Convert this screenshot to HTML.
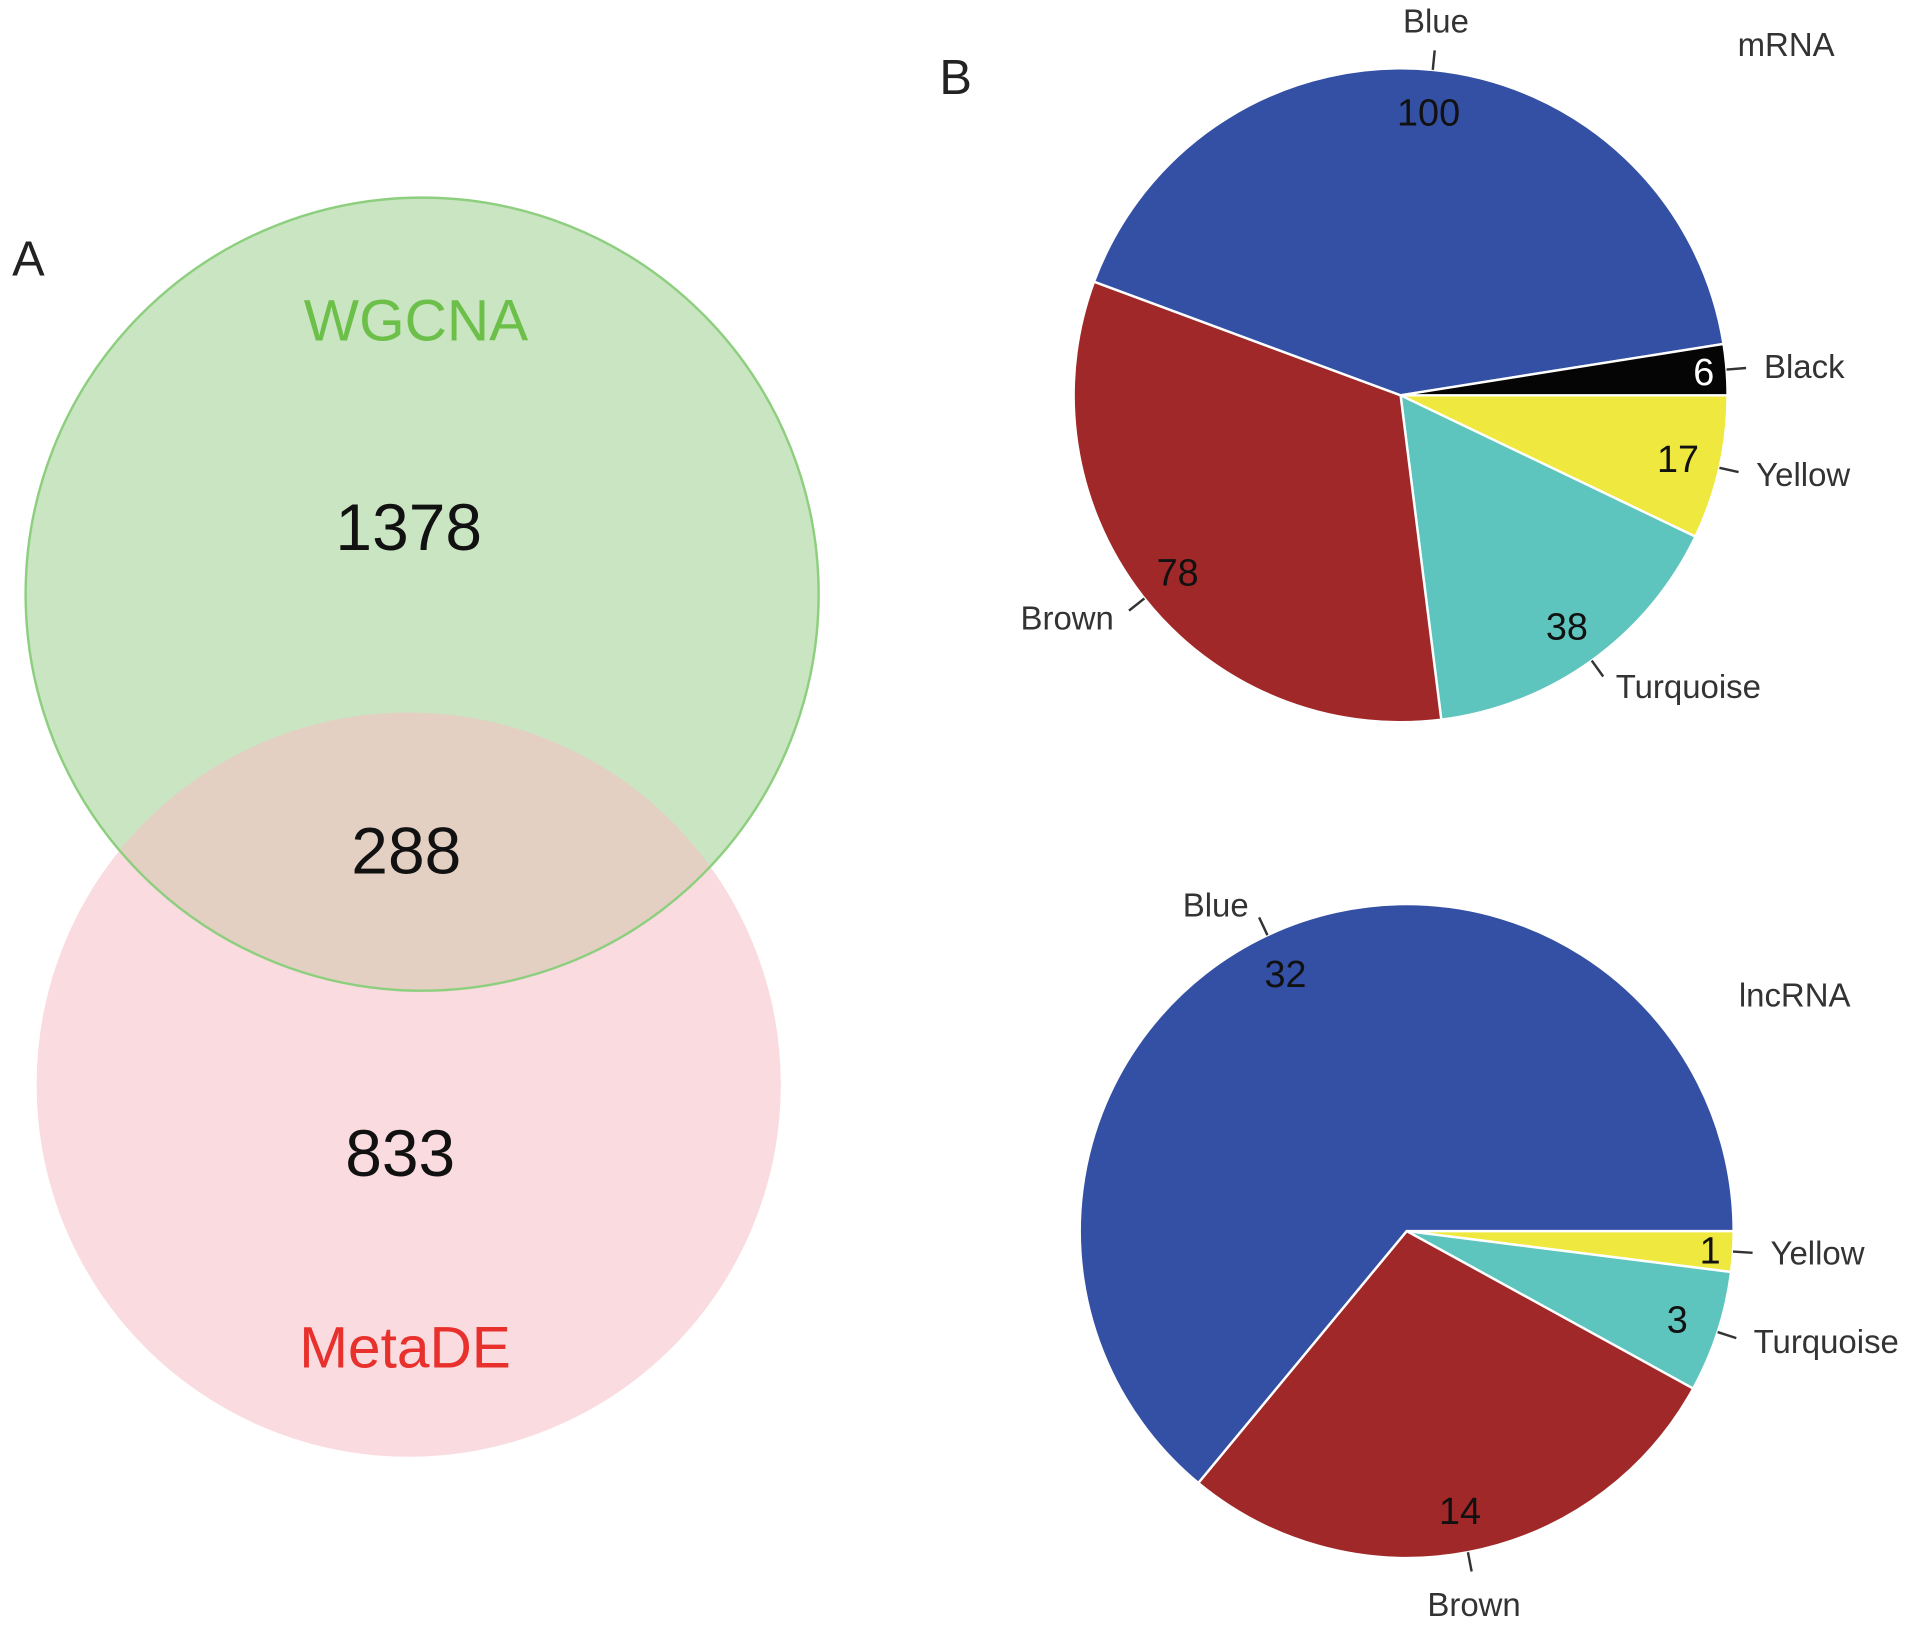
<!DOCTYPE html>
<html><head><meta charset="utf-8">
<style>
html,body{margin:0;padding:0;background:#fff;}
svg{display:block;font-family:"Liberation Sans",Arial,sans-serif;}
</style></head>
<body>
<svg id="fig" width="1913" height="1630" viewBox="0 0 1568 1336" preserveAspectRatio="none" xmlns="http://www.w3.org/2000/svg">
  <defs>
    <clipPath id="greenClip"><circle cx="346" cy="487" r="325"/></clipPath>
  </defs>
  <g>
    <text x="10" y="226" font-size="40" fill="#222">A</text>
    <circle cx="335" cy="889" r="305" fill="#f9dbe0"/>
    <circle cx="346" cy="487" r="325" fill="#c9e5c1"/>
    <circle cx="335" cy="889" r="305" fill="#e3d0c3" clip-path="url(#greenClip)"/>
    <circle cx="346" cy="487" r="325" fill="none" stroke="#8dcf7f" stroke-width="2"/>
    <text x="341" y="279" font-size="48" fill="#6cc04a" text-anchor="middle">WGCNA</text>
    <text x="335" y="451" font-size="54" fill="#111" text-anchor="middle">1378</text>
    <text x="333" y="716" font-size="54" fill="#111" text-anchor="middle">288</text>
    <text x="328" y="964" font-size="54" fill="#111" text-anchor="middle">833</text>
    <text x="332" y="1121" font-size="48" fill="#e8302c" text-anchor="middle">MetaDE</text>
  </g>
  <text x="770" y="77" font-size="40" fill="#222">B</text>
  <text x="1464" y="46" font-size="27" fill="#333" text-anchor="middle">mRNA</text>
  <text x="1471" y="825" font-size="27" fill="#333" text-anchor="middle">lncRNA</text>
  <g id="pie1"></g>
  <g id="pie2"></g>
</svg>
<script>
// mRNA pie (clockwise from 3 o'clock)
const mrnaCategories = ["Yellow","Turquoise","Brown","Blue","Black"];
const mrnaValues = [17, 38, 78, 100, 6];
// lncRNA pie (clockwise from 3 o'clock)
const lncCategories = ["Yellow","Turquoise","Brown","Blue"];
const lncValues = [1, 3, 14, 32];

const colors = {Blue:"#3450a4",Brown:"#a12828",Turquoise:"#5dc5bd",Yellow:"#eee83f",Black:"#050505"};
const NS = "http://www.w3.org/2000/svg";

function drawPie(gid, cats, vals, cx, cy, r, prefix){
  const g = document.getElementById(gid);
  const total = vals.reduce((a,b)=>a+b,0);
  let a0 = 0; // degrees, clockwise (screen y down)
  const pt = (ang, rr) => [cx + rr*Math.cos(ang*Math.PI/180), cy + rr*Math.sin(ang*Math.PI/180)];
  cats.forEach((c,i)=>{
    const sweep = vals[i]/total*360;
    const a1 = a0 + sweep;
    const p0 = pt(a0,r), p1 = pt(a1,r);
    const path = document.createElementNS(NS,"path");
    path.setAttribute("d",`M${cx},${cy} L${p0[0]},${p0[1]} A${r},${r} 0 ${sweep>180?1:0} 1 ${p1[0]},${p1[1]} Z`);
    path.setAttribute("fill",colors[c]);
    path.setAttribute("stroke","#fff");
    path.setAttribute("stroke-width","2");
    
    
    g.appendChild(path);
    a0 = a1;
  });
  a0 = 0;
  cats.forEach((c,i)=>{
    const sweep = vals[i]/total*360;
    const mid = a0 + sweep/2;
    a0 += sweep;
    const vr = sweep < 15 ? 0.93 : 0.87;
    const vp = pt(mid, r*vr);
    const vt = document.createElementNS(NS,"text");
    vt.setAttribute("x",vp[0]); vt.setAttribute("y",vp[1]+11);
    vt.setAttribute("font-size","31");
    vt.setAttribute("text-anchor","middle");
    vt.setAttribute("fill", c==="Black" ? "#fff" : "#111");
    vt.textContent = vals[i];
    
    
    g.appendChild(vt);
    const l0 = pt(mid, r*1.0), l1 = pt(mid, r*1.06);
    const ln = document.createElementNS(NS,"line");
    ln.setAttribute("x1",l0[0]); ln.setAttribute("y1",l0[1]);
    ln.setAttribute("x2",l1[0]); ln.setAttribute("y2",l1[1]);
    ln.setAttribute("stroke","#333"); ln.setAttribute("stroke-width","2");
    
    
    g.appendChild(ln);
    const cs = Math.cos(mid*Math.PI/180);
    const np = pt(mid, r*1.1);
    const nt = document.createElementNS(NS,"text");
    let anchor = cs > 0.3 ? "start" : (cs < -0.3 ? "end" : "middle");
    let dy = 9;
    const sn = Math.sin(mid*Math.PI/180);
    if (anchor==="middle") dy = sn < 0 ? -4 : 26;
    nt.setAttribute("x", np[0] + (anchor==="start"?4:anchor==="end"?-4:0));
    nt.setAttribute("y", np[1]+dy);
    nt.setAttribute("font-size","27");
    nt.setAttribute("text-anchor",anchor);
    nt.setAttribute("fill","#333");
    nt.textContent = c;
    
    
    g.appendChild(nt);
  });
}
drawPie("pie1", mrnaCategories, mrnaValues, 1148, 324, 268, "mrna");
drawPie("pie2", lncCategories, lncValues, 1153, 1009, 268, "lncrna");
</script>
</body></html>
